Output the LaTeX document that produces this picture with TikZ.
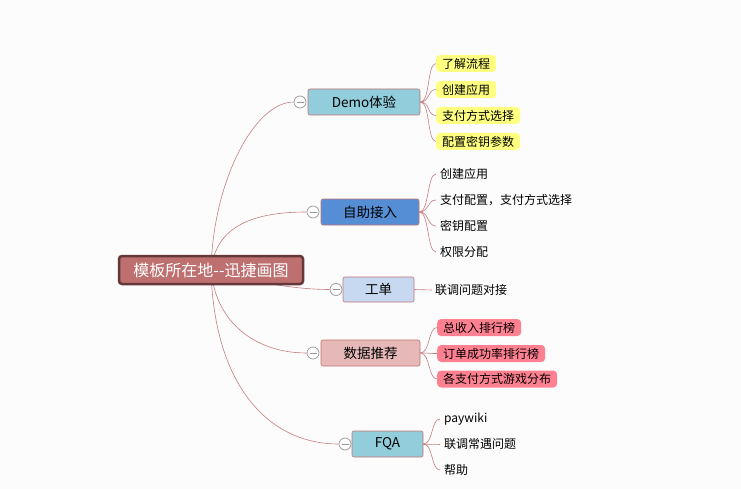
\documentclass[tikz,border=0pt]{standalone}
\usepackage{fontspec}
\setmainfont{Noto Sans CJK SC}
\usetikzlibrary{backgrounds}
\definecolor{bg}{RGB}{252,252,252}
\definecolor{linec}{RGB}{200,125,125}
\definecolor{rootfill}{RGB}{190,112,112}
\definecolor{rootdraw}{RGB}{100,56,56}
\definecolor{lblue}{RGB}{146,205,220}
\definecolor{mblue}{RGB}{85,142,213}
\definecolor{pblue}{RGB}{198,217,241}
\definecolor{lpink}{RGB}{230,185,184}
\definecolor{yel}{RGB}{255,255,128}
\definecolor{pnk}{RGB}{255,128,145}
\definecolor{boxdraw}{RGB}{195,115,115}
\definecolor{circ}{RGB}{150,150,150}
\tikzset{
  rootbox/.style={draw=rootdraw,line width=2.5pt,fill=rootfill,rounded corners=3pt,text=white,minimum width=184pt,minimum height=28pt,inner sep=0pt,font=\fontsize{16}{18}\selectfont},
  mainbox/.style={draw=boxdraw,line width=0.6pt,rounded corners=2pt,minimum height=26pt,inner sep=0pt,font=\fontsize{13.5}{16}\selectfont},
  leafbox/.style={rounded corners=4pt,minimum height=17pt,inner xsep=6pt,inner ysep=0pt,anchor=west,font=\fontsize{12}{14}\selectfont},
  leaftext/.style={inner sep=3pt,anchor=west,font=\fontsize{12}{14}\selectfont},
  conn/.style={draw=linec,line width=0.6pt},
  toggle/.style={circle,draw=circ,fill=white,line width=0.7pt,minimum size=12pt,inner sep=0pt,
    path picture={\draw[circ,line width=0.7pt] ([xshift=-3.5pt]path picture bounding box.center) -- ([xshift=3.5pt]path picture bounding box.center);}}
}
\begin{document}
\begin{tikzpicture}[x=1pt,y=-1pt]
\useasboundingbox (0,0) rectangle (741,489);
% main nodes
\node[rootbox] (root) at (211,270) {模板所在地-{}-迅捷画图};
\node[mainbox,fill=lblue,minimum width=112pt] (demo) at (364,102) {Demo体验};
\node[mainbox,fill=mblue,minimum width=98pt] (zz) at (370,212) {自助接入};
\node[mainbox,fill=pblue,minimum width=71pt,minimum height=25pt] (gd) at (378.5,289.5) {工单};
\node[mainbox,fill=lpink,minimum width=99pt] (sj) at (370.5,353) {数据推荐};
\node[mainbox,fill=lblue,minimum width=71pt] (fqa) at (387.5,444) {FQA};
% toggles
\node[toggle] (t1) at (300,102) {};
\node[toggle] (t2) at (313,212) {};
\node[toggle] (t3) at (336,289.5) {};
\node[toggle] (t4) at (313,353) {};
\node[toggle] (t5) at (345,444) {};
% demo leaves
\node[leafbox,fill=yel] (d1) at (436,63.5) {了解流程};
\node[leafbox,fill=yel] (d2) at (436,89.5) {创建应用};
\node[leafbox,fill=yel] (d3) at (436,115.5) {支付方式选择};
\node[leafbox,fill=yel] (d4) at (436,141.5) {配置密钥参数};
% zz leaves
\node[leaftext] (z1) at (437,174) {创建应用};
\node[leaftext] (z2) at (437,200) {支付配置，支付方式选择};
\node[leaftext] (z3) at (437,226) {密钥配置};
\node[leaftext] (z4) at (437,252) {权限分配};
% gd leaf
\node[leaftext] (g1) at (432,290) {联调问题对接};
% sj leaves
\node[leafbox,fill=pnk] (s1) at (437,327.5) {总收入排行榜};
\node[leafbox,fill=pnk] (s2) at (437,353.5) {订单成功率排行榜};
\node[leafbox,fill=pnk] (s3) at (437,379) {各支付方式游戏分布};
% fqa leaves
\node[leaftext] (f1) at (441,419) {paywiki};
\node[leaftext] (f2) at (441,444) {联调常遇问题};
\node[leaftext] (f3) at (441,470) {帮助};
\begin{scope}[on background layer]
\fill[bg] (0,0) rectangle (741,489);
\draw[conn] (root.center) .. controls (213,180) and (255,102) .. (t1.west);
\draw[conn] (root.center) .. controls (216,225) and (255,212) .. (t2.west);
\draw[conn] (root.center) .. controls (260,284) and (300,289.5) .. (t3.west);
\draw[conn] (root.center) .. controls (216,325) and (258,353) .. (t4.west);
\draw[conn] (root.center) .. controls (214,385) and (268,444) .. (t5.west);
\foreach \c in {d1,d2,d3,d4}{\draw[conn] (demo.east) .. controls +(10,0) and +(-9,0) .. (\c.west);}
\foreach \c in {z1,z2,z3,z4}{\draw[conn] (zz.east) .. controls +(10,0) and +(-9,0) .. ([xshift=-1pt]\c.west);}
\draw[conn] (gd.east) -- (g1.west);
\foreach \c in {s1,s2,s3}{\draw[conn] (sj.east) .. controls +(10,0) and +(-9,0) .. (\c.west);}
\foreach \c in {f1,f2,f3}{\draw[conn] (fqa.east) .. controls +(10,0) and +(-9,0) .. ([xshift=-1pt]\c.west);}
\end{scope}
\end{tikzpicture}
\end{document}
